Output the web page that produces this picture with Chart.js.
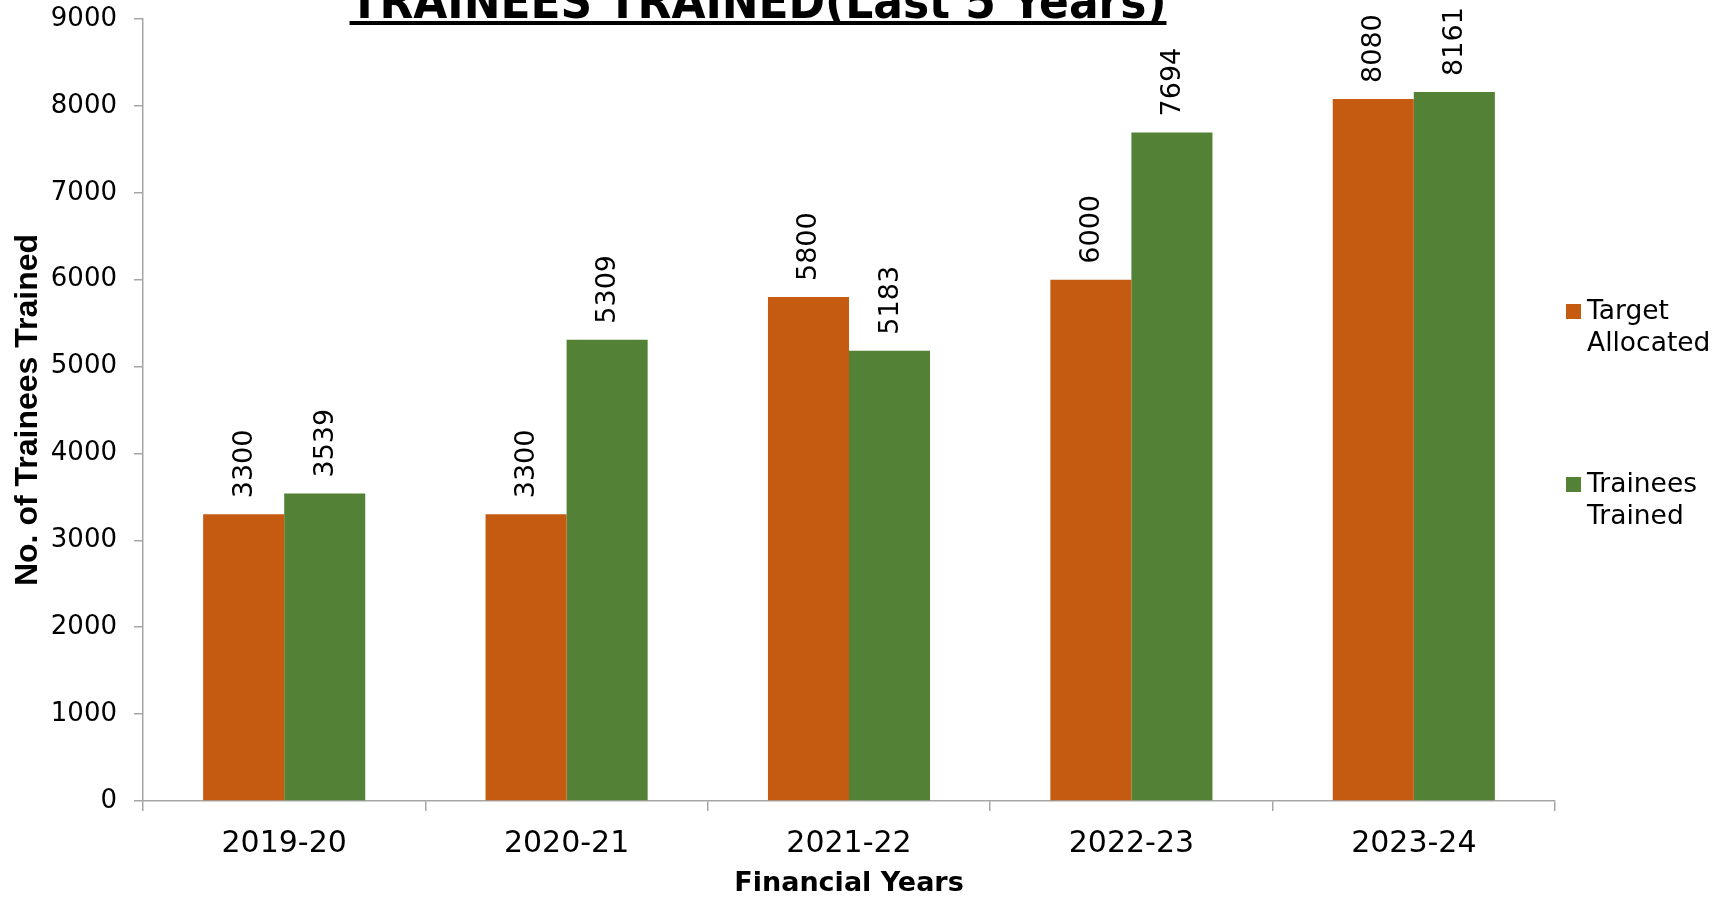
<!DOCTYPE html>
<html>
<head>
  <meta charset="utf-8">
  <title>Trainees Trained</title>
  <script src="https://cdn.jsdelivr.net/npm/chart.js@4.4.0/dist/chart.umd.min.js"></script>
  <style>
    html, body { margin: 0; padding: 0; background: #fff; }
    #wrap { width: 1723px; height: 897px; }
  </style>
</head>
<body>
<div id="wrap"><canvas id="chart"></canvas></div>
<script>
const years = ['2019-20', '2020-21', '2021-22', '2022-23', '2023-24'];
const targetAllocated = [3300, 3300, 5800, 6000, 8080];
const traineesTrained = [3539, 5309, 5183, 7694, 8161];
const seriesNames = [['Target', 'Allocated'], ['Trainees', 'Trained']];
const chartTitle = 'TRAINEES TRAINED(Last 5 Years)';

const ORANGE = '#C55A11';
const GREEN = '#538135';
const AXIS = '#A6A6A6';
const FONT = "'DejaVu Sans', Verdana, sans-serif";

// rotated value labels above each bar
const valueLabels = {
  id: 'valueLabels',
  afterDatasetsDraw(chart) {
    const ctx = chart.ctx;
    ctx.save();
    ctx.font = '27px ' + FONT;
    ctx.fillStyle = '#000';
    ctx.textAlign = 'left';
    ctx.textBaseline = 'middle';
    chart.data.datasets.forEach((ds, i) => {
      chart.getDatasetMeta(i).data.forEach((bar, j) => {
        ctx.save();
        ctx.translate(bar.x, bar.y - 16);
        ctx.rotate(-Math.PI / 2);
        ctx.fillText(String(ds.data[j]), 0, 1);
        ctx.restore();
      });
    });
    ctx.restore();
  }
};

// underlined title, partly cut off at the top like the original
const topTitle = {
  id: 'topTitle',
  afterDraw(chart) {
    const ctx = chart.ctx;
    ctx.save();
    ctx.font = 'bold 48px ' + FONT;
    ctx.fillStyle = '#000';
    ctx.textAlign = 'center';
    ctx.textBaseline = 'alphabetic';
    const w = Math.min(ctx.measureText(chartTitle).width, 817);
    ctx.fillText(chartTitle, 758, 18, 817);
    ctx.fillRect(758 - w / 2, 21, w, 4);
    ctx.restore();
  }
};

// two-line legend on the right
const sideLegend = {
  id: 'sideLegend',
  afterDraw(chart) {
    const ctx = chart.ctx;
    ctx.save();
    ctx.font = '26.5px ' + FONT;
    ctx.textBaseline = 'middle';
    ctx.textAlign = 'left';
    const tops = [311, 484];
    chart.data.datasets.forEach((ds, i) => {
      ctx.fillStyle = ds.backgroundColor;
      ctx.fillRect(1566, tops[i] - 7, 15, 15);
      ctx.fillStyle = '#000';
      seriesNames[i].forEach((line, k) => {
        ctx.fillText(line, 1587, tops[i] + 1 + k * 32);
      });
    });
    ctx.restore();
  }
};

new Chart(document.getElementById('chart'), {
  type: 'bar',
  data: {
    labels: years,
    datasets: [
      { label: seriesNames[0].join(' '), data: targetAllocated, backgroundColor: ORANGE },
      { label: seriesNames[1].join(' '), data: traineesTrained, backgroundColor: GREEN }
    ]
  },
  options: {
    responsive: true,
    maintainAspectRatio: false,
    animation: false,
    layout: { padding: { top: 19, right: 168, left: 0, bottom: 0 } },
    datasets: { bar: { categoryPercentage: 0.574, barPercentage: 1.0 } },
    plugins: {
      legend: { display: false },
      title: { display: false },
      tooltip: { enabled: false }
    },
    scales: {
      x: {
        afterFit(scale) { scale.height = 96; },
        grid: { drawOnChartArea: false, color: AXIS, tickLength: 10, lineWidth: 1.5 },
        border: { color: AXIS, width: 1.5 },
        ticks: { color: '#000', padding: 15, font: { family: FONT, size: 30 } },
        title: {
          display: true,
          text: 'Financial Years',
          color: '#000',
          font: { family: FONT, size: 27, weight: 'bold', lineHeight: 1.0 },
          padding: { top: 0, bottom: 0 }
        }
      },
      y: {
        min: 0,
        max: 9000,
        afterFit(scale) {
          scale.width = 143;
          scale.paddingTop = 0;
          scale.paddingBottom = 0;
        },
        grid: { drawOnChartArea: false, color: AXIS, tickLength: 9, lineWidth: 1.5 },
        border: { color: AXIS, width: 1.5 },
        ticks: {
          stepSize: 1000,
          color: '#000',
          padding: 17,
          font: { family: FONT, size: 26 },
          callback: (v) => String(v)
        },
        title: {
          display: true,
          text: 'No. of Trainees Trained',
          color: '#000',
          font: { family: "'Liberation Sans', Arial, sans-serif", size: 32, weight: 'bold' },
          padding: { top: 9, bottom: 0 }
        }
      }
    }
  },
  plugins: [valueLabels, topTitle, sideLegend]
});
</script>
</body>
</html>
